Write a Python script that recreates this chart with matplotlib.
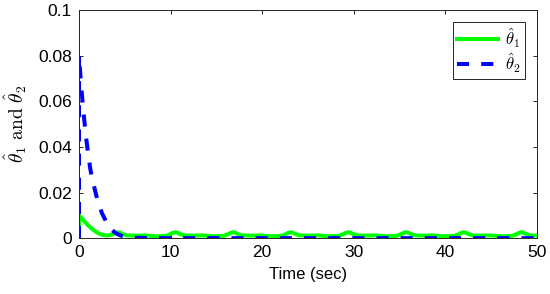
import matplotlib
matplotlib.use('Agg')
import matplotlib.pyplot as plt
from matplotlib.ticker import FormatStrFormatter

plt.rcParams['font.family'] = ['Liberation Sans', 'DejaVu Sans']
plt.rcParams['mathtext.fontset'] = 'cm'

# theta_2 estimate: fast decay from 0.08 to zero
t2 = [0, 0, 0.25, 0.5, 0.75, 1.0, 1.25, 1.5, 2.0, 2.5, 3.0, 3.5, 4.0, 4.5, 5.0, 6.0, 8.0, 50.0]
theta2 = [0, 0.080, 0.066, 0.055, 0.045, 0.037, 0.030, 0.025, 0.017, 0.011, 0.007, 0.004, 0.0022, 0.0012, 0.0006, 0.0002, 0.0, 0.0]

# theta_1 estimate: small decay then periodic ripple
t1 = [0, 0, 0.5, 1.0, 1.5, 2.0, 2.5, 3.0,
      3.2, 3.6, 3.9, 4.2, 4.5, 4.8, 5.2, 6.2, 7.2, 8.4,
      9.5, 9.9, 10.2, 10.5, 10.8, 11.1, 11.5, 12.5, 13.5, 14.7,
      15.8, 16.2, 16.5, 16.8, 17.1, 17.4, 17.8, 18.8, 19.8, 21.0,
      22.1, 22.5, 22.8, 23.1, 23.4, 23.7, 24.1, 25.1, 26.1, 27.3,
      28.4, 28.8, 29.1, 29.4, 29.7, 30.0, 30.4, 31.4, 32.4, 33.6,
      34.7, 35.1, 35.4, 35.7, 36.0, 36.3, 36.7, 37.7, 38.7, 39.9,
      41.0, 41.4, 41.7, 42.0, 42.3, 42.6, 43.0, 44.0, 45.0, 46.2,
      47.3, 47.7, 48.0, 48.3, 48.6, 48.9, 49.3, 50.0]
theta1 = [0, 0.010, 0.0078, 0.0056, 0.0038, 0.0024, 0.0015, 0.0012,
          0.0012, 0.0016, 0.0022, 0.0026, 0.0023, 0.0017, 0.0012, 0.0011, 0.0012, 0.0008,
          0.0010, 0.0016, 0.0022, 0.0026, 0.0023, 0.0017, 0.0012, 0.0011, 0.0012, 0.0008,
          0.0010, 0.0016, 0.0022, 0.0026, 0.0023, 0.0017, 0.0012, 0.0011, 0.0012, 0.0008,
          0.0010, 0.0016, 0.0022, 0.0026, 0.0023, 0.0017, 0.0012, 0.0011, 0.0012, 0.0008,
          0.0010, 0.0016, 0.0022, 0.0026, 0.0023, 0.0017, 0.0012, 0.0011, 0.0012, 0.0008,
          0.0010, 0.0016, 0.0022, 0.0026, 0.0023, 0.0017, 0.0012, 0.0011, 0.0012, 0.0008,
          0.0010, 0.0016, 0.0022, 0.0026, 0.0023, 0.0017, 0.0012, 0.0011, 0.0012, 0.0008,
          0.0010, 0.0016, 0.0022, 0.0026, 0.0023, 0.0017, 0.0012, 0.0011]

fig = plt.figure(figsize=(5.5, 2.94), dpi=100)
ax = fig.add_axes([0.1436, 0.19, 0.8324, 0.776])

ax.plot(t1, theta1, color='#00ff00', lw=2.9, label=r'$\hat{\theta}_1$')
ax.plot(t2, theta2, color='#0000ff', lw=2.9, ls=(0, (3, 3)), label=r'$\hat{\theta}_2$')

ax.set_xlim(0, 50)
ax.set_ylim(0, 0.1)
ax.set_xticks([0, 10, 20, 30, 40, 50])
ax.set_yticks([0, 0.02, 0.04, 0.06, 0.08, 0.1])
ax.yaxis.set_major_formatter(FormatStrFormatter('%g'))
ax.tick_params(direction='in', top=True, right=True, labelsize=12.5, length=3, width=0.6, pad=5)
for s in ax.spines.values():
    s.set_linewidth(0.7)
    s.set_color('#262626')

ax.set_xlabel('Time (sec)', fontsize=12, labelpad=5)
ax.set_ylabel(r'$\hat{\theta}_1\ \mathrm{and}\ \hat{\theta}_2$', fontsize=14, labelpad=7)

leg = ax.legend(loc='upper right', fontsize=12, fancybox=False, framealpha=1,
                edgecolor='#262626', handlelength=2.5, borderpad=0.25, labelspacing=0.1,
                handletextpad=0.4, borderaxespad=0.7)
leg.get_frame().set_linewidth(0.7)

fig.savefig('out.png', dpi=100, facecolor='white')
